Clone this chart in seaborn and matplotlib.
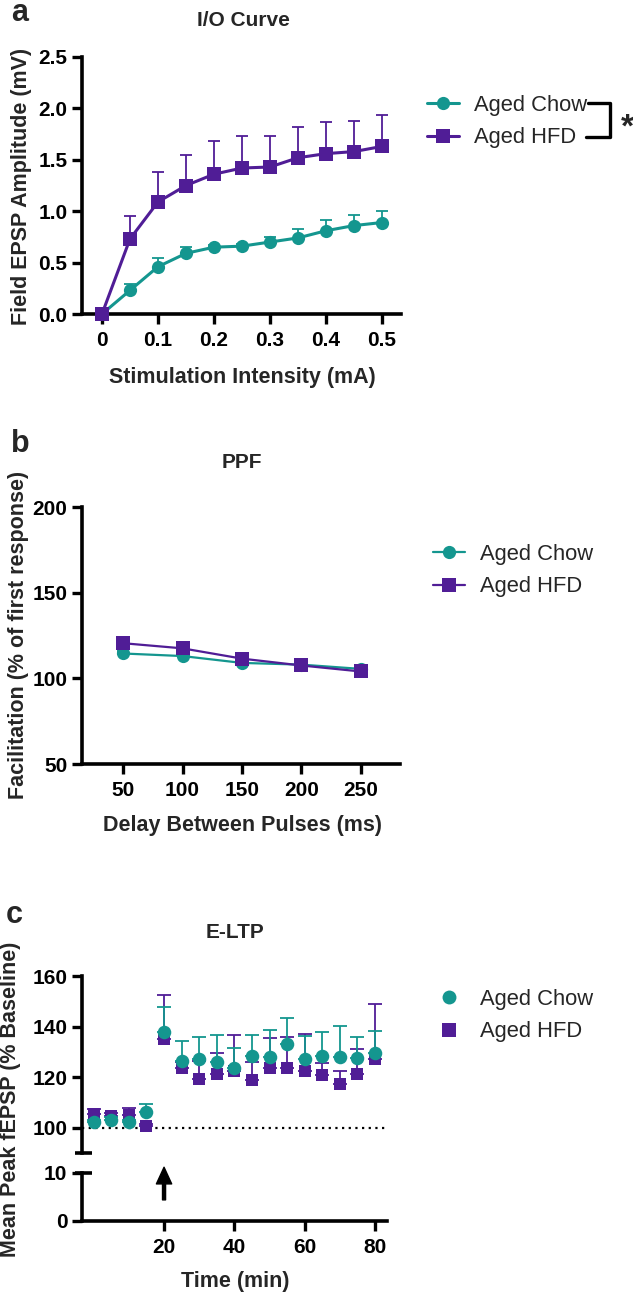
import numpy as np
import pandas as pd
import seaborn as sns
import matplotlib
matplotlib.use("Agg")
import matplotlib.pyplot as plt
from matplotlib.lines import Line2D

# ---- data ----
groups = ["Aged Chow", "Aged HFD"]

io_intensity = [0, 0.05, 0.1, 0.15, 0.2, 0.25, 0.3, 0.35, 0.4, 0.45, 0.5]
io_chow = [0.0, 0.23, 0.46, 0.59, 0.65, 0.66, 0.70, 0.74, 0.81, 0.86, 0.89]
io_chow_sem = [0.0, 0.06, 0.08, 0.06, 0.02, 0.02, 0.05, 0.09, 0.10, 0.10, 0.11]
io_hfd = [0.0, 0.73, 1.09, 1.25, 1.36, 1.42, 1.43, 1.52, 1.56, 1.58, 1.63]
io_hfd_sem = [0.0, 0.22, 0.29, 0.30, 0.32, 0.31, 0.30, 0.30, 0.31, 0.30, 0.31]

ppf_delay = [50, 100, 150, 200, 250]
ppf_chow = [114.5, 113.0, 109.0, 108.0, 105.5]
ppf_chow_sem = [1.5, 1.5, 1.5, 1.5, 1.0]
ppf_hfd = [120.5, 117.5, 111.5, 107.5, 104.0]
ppf_hfd_sem = [3.5, 1.5, 1.5, 1.5, 1.0]

ltp_time = [0, 5, 10, 15, 20, 25, 30, 35, 40, 45, 50, 55, 60, 65, 70, 75, 80]
ltp_chow = [102.2, 103.2, 102.2, 106.2, 137.9, 126.4, 127.3, 126.1, 123.7,
            128.4, 128.0, 133.3, 127.0, 128.4, 128.0, 127.7, 129.7]
ltp_chow_sem = [1.0, 1.0, 1.0, 3.0, 9.9, 7.9, 8.7, 10.6, 7.7,
                8.3, 10.5, 9.9, 9.4, 9.5, 12.2, 8.2, 8.5]
ltp_hfd = [105.5, 104.6, 104.9, 100.7, 135.0, 123.5, 119.1, 121.1, 122.4,
           118.9, 123.5, 123.7, 122.4, 120.8, 117.4, 121.4, 127.0]
ltp_hfd_sem = [1.8, 1.4, 3.0, 0.8, 17.4, 2.5, 7.3, 8.6, 14.4,
               7.1, 12.1, 12.0, 14.8, 4.8, 5.0, 9.6, 22.0]

TEAL = "#14968f"
PURPLE = "#501d96"

sns.set_theme(style="ticks")
plt.rcParams['font.family'] = ['Liberation Sans', 'DejaVu Sans']
plt.rcParams['font.weight'] = 'bold'

W, H = 633, 1292
fig = plt.figure(figsize=(W / 100, H / 100), dpi=100)


def px_axes(left, top, right, bottom):
    return fig.add_axes([left / W, 1 - bottom / H, (right - left) / W, (bottom - top) / H])


def style_axes(ax):
    for side in ["top", "right"]:
        ax.spines[side].set_visible(False)
    for side in ["left", "bottom"]:
        ax.spines[side].set_linewidth(2.6)
        ax.spines[side].set_color("black")
    ax.tick_params(axis="both", length=7.5, width=2.4, color="black",
                   labelsize=15, labelcolor="black")
    ax.tick_params(axis="x", pad=5)
    ax.tick_params(axis="y", pad=3)
    for lab in ax.get_xticklabels() + ax.get_yticklabels():
        lab.set_fontweight("bold")
    ax.set_xlabel("")
    ax.set_ylabel("")


def upper_err(ax, x, y, sem, color, capsize, z):
    ax.errorbar(x, y, yerr=[np.zeros(len(sem)), sem], fmt="none", ecolor=color,
                elinewidth=1.3, capsize=capsize, capthick=1.3, zorder=z)


def txt(x, y, s, size, **kw):
    fig.text(x / W, 1 - y / H, s, fontsize=size, **kw)


# ---------------- panel a : I/O curve ----------------
ax_a = px_axes(82, 57, 401, 314)
upper_err(ax_a, io_intensity, io_chow, io_chow_sem, TEAL, 4.5, 2)
sns.lineplot(x=io_intensity, y=io_chow, ax=ax_a, color=TEAL, marker="o",
             markersize=9.5, markeredgewidth=0, linewidth=2.2, zorder=3)
upper_err(ax_a, io_intensity, io_hfd, io_hfd_sem, PURPLE, 4.5, 4)
sns.lineplot(x=io_intensity, y=io_hfd, ax=ax_a, color=PURPLE, marker="s",
             markersize=9.5, markeredgewidth=0, linewidth=2.2, zorder=5)
ax_a.set_xlim(-0.0357, 0.534)
ax_a.set_ylim(0, 2.5)
ax_a.set_xticks([0, 0.1, 0.2, 0.3, 0.4, 0.5])
ax_a.set_xticklabels(["0", "0.1", "0.2", "0.3", "0.4", "0.5"])
ax_a.set_yticks([0, 0.5, 1.0, 1.5, 2.0, 2.5])
ax_a.set_yticklabels(["0.0", "0.5", "1.0", "1.5", "2.0", "2.5"])
for coll in ax_a.lines:
    coll.set_clip_on(False)
style_axes(ax_a)

txt(20, 21, "a", 22, ha="center", va="baseline", fontweight="bold")
txt(243, 20, "I/O Curve", 15, ha="center", va="center", fontweight="bold")
txt(242, 377, "Stimulation Intensity (mA)", 15.5, ha="center", va="center", fontweight="bold")
txt(22, 186, "Field EPSP Amplitude (mV)", 15.5, ha="center", va="center",
    rotation=90, fontweight="bold")

handles_line = [
    Line2D([], [], color=TEAL, marker="o", markersize=9.5, markeredgewidth=0, linewidth=2.2),
    Line2D([], [], color=PURPLE, marker="s", markersize=9.5, markeredgewidth=0, linewidth=2.2),
]
leg_kw = dict(frameon=False, loc="upper left", bbox_transform=fig.transFigure,
              borderpad=0, borderaxespad=0, handlelength=1.45, handletextpad=0.7,
              labelspacing=0.52, prop={"size": 15.8, "weight": "normal"})
ax_a.legend(handles_line, groups, bbox_to_anchor=(427 / W, 1 - 95 / H), **leg_kw)

# significance bracket
fig.add_artist(Line2D([588 / W, 610 / W, 610 / W, 586 / W],
                      [1 - 103 / H, 1 - 103 / H, 1 - 137 / H, 1 - 137 / H],
                      color="black", linewidth=2.4))
txt(627, 128, "*", 24, ha="center", va="center", fontweight="bold")

# ---------------- panel b : PPF ----------------
ax_b = px_axes(82, 507, 400, 764)
upper_err(ax_b, ppf_delay, ppf_chow, ppf_chow_sem, TEAL, 4.5, 2)
sns.lineplot(x=ppf_delay, y=ppf_chow, ax=ax_b, color=TEAL, marker="o",
             markersize=9.5, markeredgewidth=0, linewidth=1.6, zorder=3)
upper_err(ax_b, ppf_delay, ppf_hfd, ppf_hfd_sem, PURPLE, 4.5, 4)
sns.lineplot(x=ppf_delay, y=ppf_hfd, ax=ax_b, color=PURPLE, marker="s",
             markersize=9.5, markeredgewidth=0, linewidth=1.6, zorder=5)
ax_b.set_xlim(15.4, 283)
ax_b.set_ylim(50, 200)
ax_b.set_xticks(ppf_delay)
ax_b.set_yticks([50, 100, 150, 200])
style_axes(ax_b)

txt(20, 452, "b", 22, ha="center", va="baseline", fontweight="bold")
txt(242, 463, "PPF", 15, ha="center", va="center", fontweight="bold")
txt(242, 825, "Delay Between Pulses (ms)", 15.5, ha="center", va="center", fontweight="bold")
txt(19, 635, "Facilitation (% of first response)", 15.5, ha="center", va="center",
    rotation=90, fontweight="bold")

handles_line_b = [
    Line2D([], [], color=TEAL, marker="o", markersize=9.5, markeredgewidth=0, linewidth=1.6),
    Line2D([], [], color=PURPLE, marker="s", markersize=9.5, markeredgewidth=0, linewidth=1.6),
]
ax_b.legend(handles_line_b, groups, bbox_to_anchor=(433 / W, 1 - 544 / H), **leg_kw)

# ---------------- panel c : E-LTP (broken y axis) ----------------
ax_c = px_axes(82, 976, 387, 1153)
ax_c0 = px_axes(82, 1173, 387, 1221)

ax_c.axhline(100, color="black", linestyle=(0, (1, 2)), linewidth=1.6, zorder=1)
upper_err(ax_c, ltp_time, ltp_hfd, ltp_hfd_sem, PURPLE, 5, 2)
sns.scatterplot(x=ltp_time, y=ltp_hfd, ax=ax_c, color=PURPLE, marker="s",
                s=85, linewidth=0, zorder=3)
upper_err(ax_c, ltp_time, ltp_chow, ltp_chow_sem, TEAL, 5, 4)
sns.scatterplot(x=ltp_time, y=ltp_chow, ax=ax_c, color=TEAL, marker="o",
                s=95, linewidth=0, zorder=5)
ax_c.set_xlim(-3.33, 83.4)
ax_c.set_ylim(90, 160)
ax_c.set_yticks([100, 120, 140, 160])
ax_c.set_xticks([])
style_axes(ax_c)
ax_c.spines["bottom"].set_visible(False)

ax_c0.set_xlim(-3.33, 83.4)
ax_c0.set_ylim(0, 10)
ax_c0.set_xticks([20, 40, 60, 80])
ax_c0.set_yticks([0, 10])
style_axes(ax_c0)
ax_c0.set_facecolor("none")
ax_c.set_facecolor("none")

# break marks
for a, yy in [(ax_c, 0), (ax_c0, 1)]:
    a.plot([-0.023, 0.033], [yy, yy], transform=a.transAxes, color="black",
           linewidth=2.6, clip_on=False, solid_capstyle="butt")

# stimulation arrow
ax_c0.annotate("", xy=(20, 11.2), xytext=(20, 4.4), annotation_clip=False,
               arrowprops=dict(facecolor="black", edgecolor="black", width=2.2,
                               headwidth=11, headlength=12, shrink=0))

txt(14, 923, "c", 22, ha="center", va="baseline", fontweight="bold")
txt(235, 933, "E-LTP", 15, ha="center", va="center", fontweight="bold")
txt(235, 1281, "Time (min)", 15.5, ha="center", va="center", fontweight="bold")
txt(11, 1099, "Mean Peak fEPSP (% Baseline)", 15.5, ha="center", va="center",
    rotation=90, fontweight="bold")

handles_pts = [
    Line2D([], [], color=TEAL, marker="o", markersize=10, markeredgewidth=0, linestyle="none"),
    Line2D([], [], color=PURPLE, marker="s", markersize=10, markeredgewidth=0, linestyle="none"),
]
ax_c.legend(handles_pts, groups, bbox_to_anchor=(433 / W, 1 - 989 / H), **leg_kw)

fig.savefig("out.png", dpi=100)
